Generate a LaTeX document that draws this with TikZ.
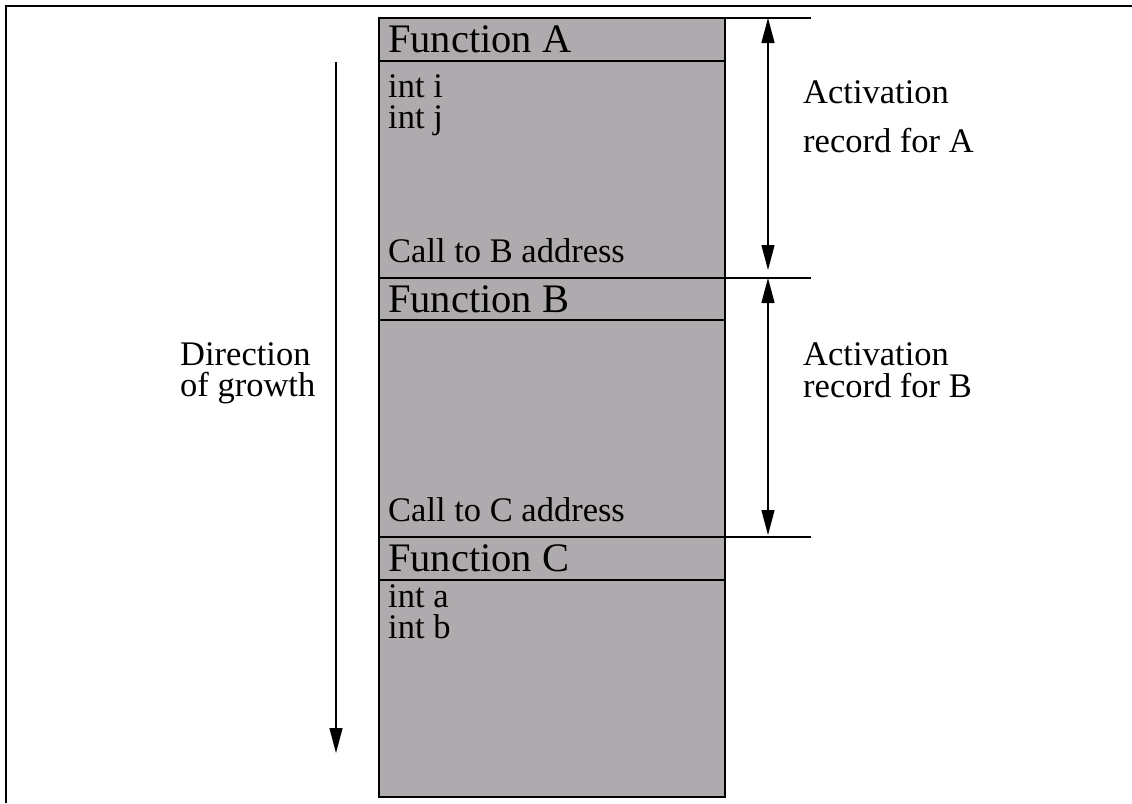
\documentclass[tikz,border=0pt]{standalone}
\usepackage{fontspec}
\setmainfont{Liberation Serif}
\usetikzlibrary{arrows.meta}
\definecolor{stackgray}{RGB}{174,170,173}
\tikzset{
  bodytext/.style={anchor=base west, inner sep=0pt, font=\fontsize{34.5}{31}\selectfont},
  headtext/.style={anchor=base west, inner sep=0pt, font=\fontsize{40.5}{40}\selectfont},
  frameline/.style={line width=1.6pt},
  stackcell/.style={fill=stackgray, draw=black, line width=1.8pt},
  tickline/.style={line width=1.3pt},
  spanarrow/.style={line width=1.3pt, {Triangle[length=25pt,width=13pt]}-{Triangle[length=25pt,width=13pt]}},
  growarrow/.style={line width=1.3pt, -{Triangle[length=25pt,width=13pt]}}
}
\begin{document}
\begin{tikzpicture}[x=1pt, y=-1pt]
\useasboundingbox (0,0) rectangle (1132,803);
% outer frame (top and left edges)
\draw[frameline] (1132,6) -- (6,6) -- (6,803);

% the stack column
\draw[stackcell] (379,18) rectangle (725,797);
\draw[stackcell] (379,61) -- (725,61);
\draw[stackcell] (379,278) -- (725,278);
\draw[stackcell] (379,320) -- (725,320);
\draw[stackcell] (379,537) -- (725,537);
\draw[stackcell] (379,580) -- (725,580);

% contents of the frames
\node[headtext] (fa) at (388,52) {Function A};
\node[bodytext] (ai) at (388,97) {int i};
\node[bodytext] (aj) at (388,128) {int j};
\node[bodytext] (ca) at (388,262) {Call to B address};
\node[headtext] (fb) at (388,312) {Function B};
\node[bodytext] (cb) at (388,521) {Call to C address};
\node[headtext] (fc) at (388,571) {Function C};
\node[bodytext] (ia) at (388,607) {int a};
\node[bodytext] (ib) at (388,638) {int b};

% record boundaries
\coordinate (t0) at (725,18);
\coordinate (t0e) at (811,18);
\coordinate (t1) at (725,278);
\coordinate (t1e) at (811,278);
\coordinate (t2) at (725,537);
\coordinate (t2e) at (811,537);
\draw[tickline] (t0) -- (t0e);
\draw[tickline] (t1) -- (t1e);
\draw[tickline] (t2) -- (t2e);

% extent of each activation record
\coordinate (ra1) at (768,18);
\coordinate (ra2) at (768,270);
\coordinate (rb1) at (768,278);
\coordinate (rb2) at (768,535);
\draw[spanarrow] (ra1) -- (ra2);
\draw[spanarrow] (rb1) -- (rb2);

\node[bodytext] (la1) at (803,103) {Activation};
\node[bodytext] (la2) at (803,152) {record for A};
\node[bodytext] (lb1) at (803,365) {Activation};
\node[bodytext] (lb2) at (803,397) {record for B};

% direction of stack growth
\coordinate (g1) at (336,62);
\coordinate (g2) at (336,753);
\draw[growarrow] (g1) -- (g2);
\node[bodytext] (d1) at (180,365) {Direction};
\node[bodytext] (d2) at (180,396) {of growth};
\end{tikzpicture}
\end{document}
